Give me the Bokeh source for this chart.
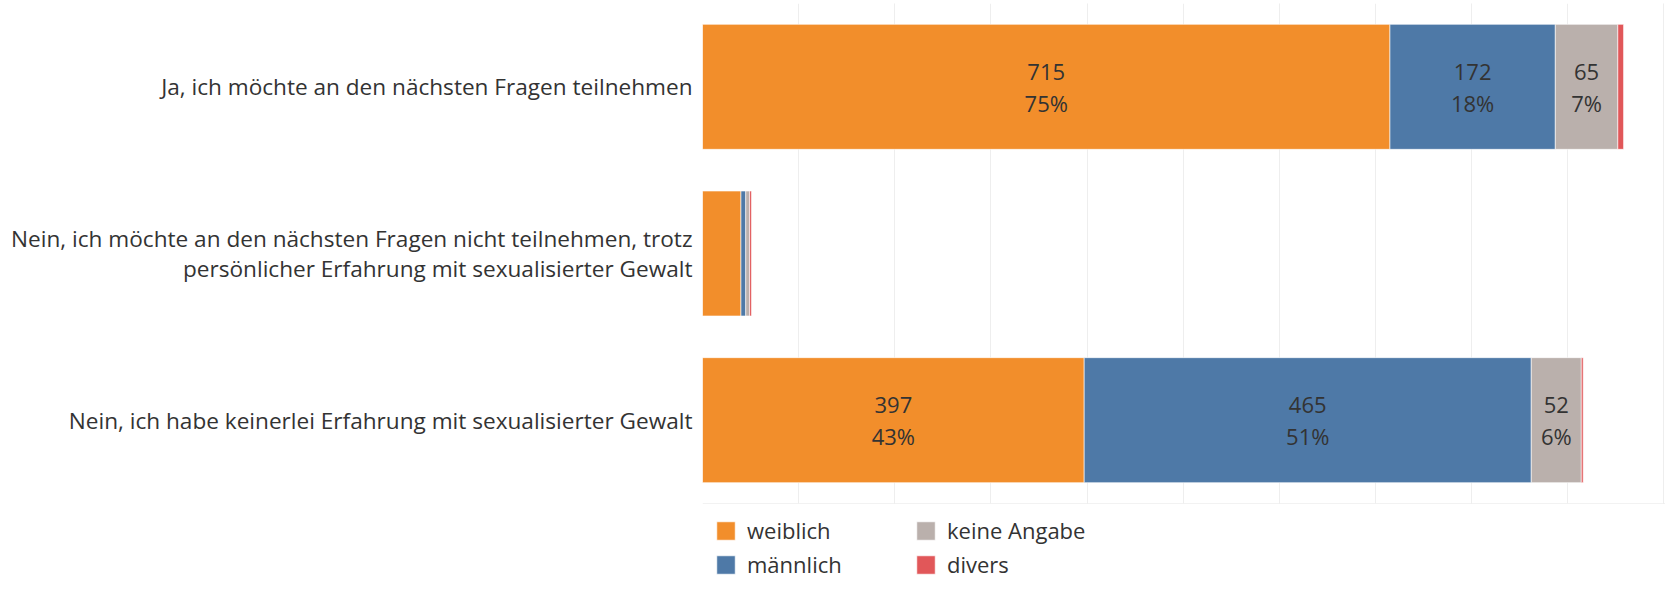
from bokeh.plotting import figure
from bokeh.models import (Range1d, FactorRange, FixedTicker, Legend, LegendItem,
                          ColumnDataSource, Grid, Span)
from bokeh.core.properties import value
from bokeh.embed import file_html
from bokeh.resources import INLINE

# ---- data ----
categories = [
    "Ja, ich möchte an den nächsten Fragen teilnehmen",
    "Nein, ich möchte an den nächsten Fragen nicht teilnehmen, trotz\npersönlicher Erfahrung mit sexualisierter Gewalt",
    "Nein, ich habe keinerlei Erfahrung mit sexualisierter Gewalt",
]
weiblich = [715, 40, 397]
maennlich = [172, 5, 465]
keine_angabe = [65, 4, 52]
divers = [6, 2, 2]
series_names = ["weiblich", "männlich", "keine Angabe", "divers"]
series_keys = ["weiblich", "maennlich", "keine_angabe", "divers"]
colors = ["#F28E2B", "#4E79A7", "#BAB0AC", "#E15759"]
x_ticks = list(range(0, 1001, 100))

FONT = "Open Sans"
TEXT_COLOR = "#333333"

n = len(categories)
data = dict(cat=categories, weiblich=weiblich, maennlich=maennlich,
            keine_angabe=keine_angabe, divers=divers)
src = ColumnDataSource(data)

p = figure(frame_width=963, frame_height=500,
           x_range=Range1d(0, 1001.6),
           y_range=FactorRange(factors=list(reversed(categories))),
           x_axis_location=None,
           output_backend="svg", toolbar_location=None,
           min_border_left=702, min_border_top=3, min_border_right=0,
           min_border_bottom=94)
p.outline_line_color = None
p.background_fill_color = "white"
p.border_fill_color = "white"

# vertical grid lines
p.add_layout(Grid(dimension=0, ticker=FixedTicker(ticks=x_ticks),
                  grid_line_color="#eeeeee", grid_line_width=1))
p.ygrid.grid_line_color = None

renderers = p.hbar_stack(series_keys, y="cat", height=0.75, color=colors,
                         line_color="white", line_alpha=0.6, line_width=1,
                         source=src)

p.add_layout(Span(location=0, dimension="width", line_color="#e6e6e6",
                  line_width=1))

# labels
lx, ly, lnum, lpct = [], [], [], []
series_vals = [weiblich, maennlich, keine_angabe, divers]
for i in range(n):
    total = sum(s[i] for s in series_vals)
    left = 0
    for s in series_vals:
        v = s[i]
        if v >= 20 and total > 200:
            lx.append(left + v / 2)
            ly.append(categories[i])
            lnum.append(str(v))
            lpct.append(f"{round(100 * v / total)}%")
        left += v
lsrc = ColumnDataSource(dict(x=lx, y=ly, num=lnum, pct=lpct))
p.text(x="x", y="y", text="num", source=lsrc, text_align="center",
       text_baseline="middle", y_offset=-15, text_font=value(FONT),
       text_font_size="22px", text_color=TEXT_COLOR)
p.text(x="x", y="y", text="pct", source=lsrc, text_align="center",
       text_baseline="middle", y_offset=16, text_font=value(FONT),
       text_font_size="22px", text_color=TEXT_COLOR)

# y axis
p.yaxis.major_label_text_font = FONT
p.yaxis.major_label_text_font_size = "22.6px"
p.yaxis.major_label_text_color = TEXT_COLOR
p.yaxis.major_label_text_line_height = 0.95
p.yaxis.major_label_standoff = 4
p.yaxis.major_tick_line_color = None
p.yaxis.minor_tick_line_color = None
p.yaxis.axis_line_color = None

legend = Legend(
    items=[LegendItem(label=nm, renderers=[r]) for nm, r in zip(series_names, renderers)],
    nrows=2, orientation="vertical", location="top_left",
    glyph_width=23, glyph_height=23, label_height=23, label_width=163,
    label_standoff=10, spacing=4, padding=0, margin=12,
    label_text_font=FONT, label_text_font_size="22px",
    label_text_color=TEXT_COLOR, border_line_color=None,
    background_fill_alpha=0,
)
p.add_layout(legend, "below")

open("out.html", "w").write(file_html(p, INLINE))
